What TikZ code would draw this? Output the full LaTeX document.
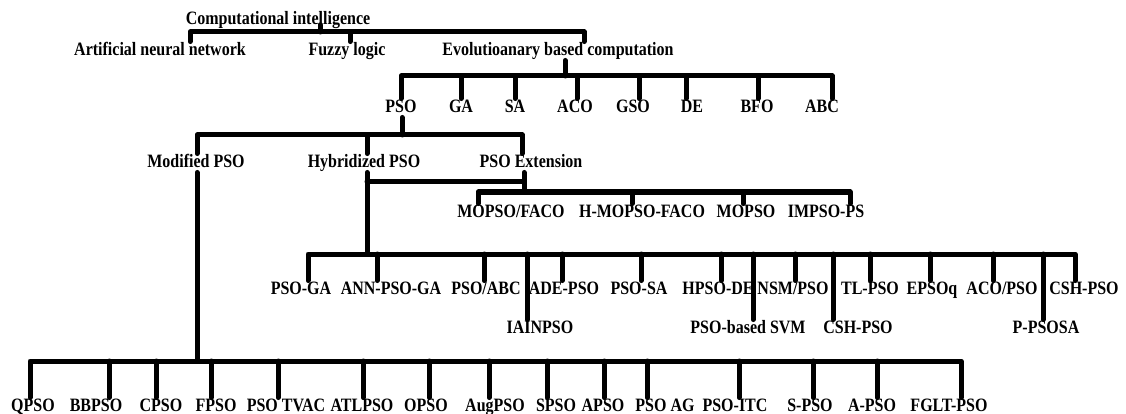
\documentclass[tikz,border=0pt]{standalone}
\usepackage{fontspec}
\setmainfont{Liberation Serif}
\usepackage{graphicx}
\usepackage{tikz}
\newcommand{\tall}[1]{\scalebox{1}[1.18]{#1}}
\tikzset{
    branch/.style={line width=5pt, line cap=round, line join=round},
    lbl/.style={font=\fontsize{16}{18}\selectfont\bfseries, inner sep=1pt, text height=13pt, text depth=3.5pt}
}

\begin{document}
\begin{tikzpicture}[x=1pt, y=-1pt]
    \useasboundingbox (0,0) rectangle (1126,414);
    \node[lbl] (ci) at (278,20) {\tall{Computational intelligence}};
    \node[lbl] (ann) at (160,51) {\tall{Artificial neural network}};
    \node[lbl] (fuzzy) at (347,51) {\tall{Fuzzy logic}};
    \node[lbl] (ebc) at (558,51) {\tall{Evolutioanary based computation}};
    \draw[branch] (320,0 |- ci.base) -- (320,32);
    \draw[branch] (190,0 |- ann.north) -- (190,32) -- (584,32) -- (584,0 |- ebc.north);
    \draw[branch] (350,32) -- (350,0 |- fuzzy.north);

    \foreach \x/\n/\t in {401/pso/PSO, 461/ga/GA, 515/sa/SA, 575/aco/ACO, 633/gso/GSO, 692/de/DE, 757/bfo/BFO, 822/abc/ABC}
        \node[lbl] (\n) at (\x,108) {\tall{\t}};
    \draw[branch] (565,0 |- ebc.south) -- (565,76);
    \draw[branch] (401,0 |- pso.north) -- (401,76) -- (832,76) -- (832,0 |- abc.north);
    \foreach \x/\n in {461/ga, 515/sa, 577/aco, 639/gso, 686/de, 758/bfo}
        \draw[branch] (\x,76) -- (\x,0 |- \n.north);

    \node[lbl] (mod) at (196,163) {\tall{Modified PSO}};
    \node[lbl] (hyb) at (364,163) {\tall{Hybridized PSO}};
    \node[lbl] (ext) at (531,163) {\tall{PSO Extension}};
    \draw[branch] (402,0 |- pso.south) -- (402,135);
    \draw[branch] (197,0 |- mod.north) -- (197,135) -- (522,135) -- (522,0 |- ext.north);
    \draw[branch] (367,135) -- (367,0 |- hyb.north);

    \foreach \x/\n/\t in {511/mopsofaco/{MOPSO/FACO}, 642/hmopso/H-MOPSO-FACO, 746/mopso/MOPSO, 826/impsops/IMPSO-PS}
        \node[lbl] (\n) at (\x,213) {\tall{\t}};
    \draw[branch] (524,0 |- ext.south) -- (524,192);
    \draw[branch] (367,182) -- (524,182);
    \draw[branch] (478,0 |- mopsofaco.north) -- (478,192) -- (850,192) -- (850,0 |- impsops.north);
    \foreach \x/\n in {632/hmopso, 743/mopso}
        \draw[branch] (\x,192) -- (\x,0 |- \n.north);

    \foreach \x/\n/\t in {301/psoga/PSO-GA, 391/annpsoga/ANN-PSO-GA, 486/psoabc/{PSO/ABC}, 564/adepso/ADE-PSO, 639/psosa/PSO-SA, 718/hpsode/HPSO-DE, 793/nsmpso/{NSM/PSO}, 870/tlpso/TL-PSO, 932/epsoq/EPSOq, 1002/acopso/{ACO/PSO}, 1084/cshpso/CSH-PSO}
        \node[lbl] (\n) at (\x,290) {\tall{\t}};
    \foreach \x/\n/\t in {540/iainpso/IAINPSO, 748/psosvm/PSO-based SVM, 858/cshpsob/CSH-PSO, 1046/ppsosa/P-PSOSA}
        \node[lbl] (\n) at (\x,329) {\tall{\t}};
    \draw[branch] (367,0 |- hyb.south) -- (367,254);
    \draw[branch] (308,0 |- psoga.north) -- (308,254) -- (1075,254) -- (1075,0 |- cshpso.north);
    \foreach \x/\n in {377/annpsoga, 484/psoabc, 562/adepso, 641/psosa, 721/hpsode, 795/nsmpso, 870/tlpso, 930/epsoq, 993/acopso, 527/iainpso, 753/psosvm, 833/cshpsob, 1043/ppsosa}
        \draw[branch] (\x,254) -- (\x,0 |- \n.north);

    \foreach \x/\n/\t in {33/qpso/QPSO, 96/bbpso/BBPSO, 161/cpso/CPSO, 216/fpso/FPSO, 286/psotvac/PSO TVAC, 362/atlpso/ATLPSO, 426/opso/OPSO, 495/augpso/AugPSO, 556/spso/SPSO, 603/apso/APSO, 665/psoag/PSO AG, 735/psoitc/PSO-ITC, 810/spsob/S-PSO, 872/apsob/A-PSO, 949/fgltpso/FGLT-PSO}
        \node[lbl] (\n) at (\x,407) {\tall{\t}};
    \draw[branch] (197,0 |- mod.south) -- (197,361);
    \draw[branch] (30,0 |- qpso.north) -- (30,361) -- (961,361) -- (961,0 |- fgltpso.north);
    \foreach \x/\n in {109/bbpso, 156/cpso, 211/fpso, 278/psotvac, 363/atlpso, 429/opso, 489/augpso, 547/spso, 604/apso, 647/psoag, 739/psoitc, 813/spsob, 877/apsob}
        \draw[branch] (\x,361) -- (\x,0 |- \n.north);
\end{tikzpicture}
\end{document}
